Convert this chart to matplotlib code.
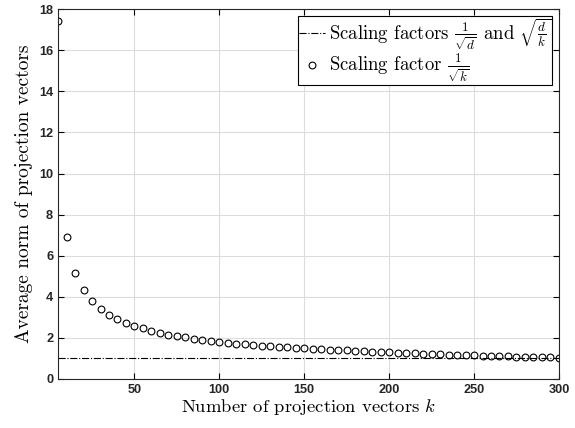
import matplotlib
matplotlib.use("Agg")
import matplotlib.pyplot as plt

# number of projection vectors k and measured average norms
k_vals = list(range(5, 301, 5))
avg_norm = [17.45, 6.93, 5.17, 4.32, 3.82, 3.43, 3.10, 2.90, 2.72, 2.57,
            2.46, 2.33, 2.24, 2.15, 2.07, 2.03, 1.96, 1.89, 1.84, 1.80,
            1.76, 1.72, 1.69, 1.66, 1.63, 1.60, 1.57, 1.54, 1.52, 1.50,
            1.47, 1.45, 1.43, 1.41, 1.39, 1.37, 1.35, 1.33, 1.31, 1.29,
            1.28, 1.26, 1.25, 1.23, 1.22, 1.20, 1.19, 1.18, 1.16, 1.15,
            1.14, 1.13, 1.12, 1.10, 1.09, 1.08, 1.07, 1.06, 1.05, 1.04]
const_norm = [1.0] * len(k_vals)

xticks = [50, 100, 150, 200, 250, 300]
yticks = list(range(0, 19, 2))

plt.rcParams['mathtext.fontset'] = 'cm'
plt.rcParams['axes.unicode_minus'] = False

fig = plt.figure(figsize=(5.75, 4.28), dpi=100)
ax = fig.add_axes([0.101, 0.1145, 0.871, 0.864])

ax.plot(k_vals, const_norm, color='black', linestyle='-.', linewidth=0.8,
        label=r'Scaling factors $\frac{1}{\sqrt{d}}$ and $\sqrt{\frac{d}{k}}$')
ax.plot(k_vals, avg_norm, linestyle='none', marker='o', markersize=4.9,
        markerfacecolor='none', markeredgecolor='black', markeredgewidth=0.8,
        label=r'Scaling factor $\frac{1}{\sqrt{k}}$')

ax.set_xlim(5, 300)
ax.set_ylim(0, 18)
ax.set_xticks(xticks)
ax.set_yticks(yticks)
ax.grid(True, color='#dcdcdc', linewidth=0.8)
ax.set_axisbelow(True)
ax.tick_params(direction='in', top=True, right=True, length=4, width=0.8)
for lab in ax.get_xticklabels() + ax.get_yticklabels():
    lab.set_fontfamily('Liberation Sans')
    lab.set_fontweight('bold')
    lab.set_fontsize(9.2)
    lab.set_color('#262626')
for s in ax.spines.values():
    s.set_color('#262626')
    s.set_linewidth(0.8)

ax.set_xlabel(r'Number of projection vectors $k$', fontfamily='cmr10', fontsize=13.4, labelpad=1)
ax.set_ylabel('Average norm of projection vectors', fontfamily='cmr10', fontsize=14, labelpad=4)

leg = ax.legend(loc='upper right', prop={'family': 'cmr10', 'size': 13.5},
                handlelength=1.4, handletextpad=0.2, borderpad=0.05,
                labelspacing=0.0, fancybox=False, framealpha=1,
                edgecolor='black', borderaxespad=0.35)
leg.get_frame().set_linewidth(0.8)

fig.savefig('out.png', dpi=100)
